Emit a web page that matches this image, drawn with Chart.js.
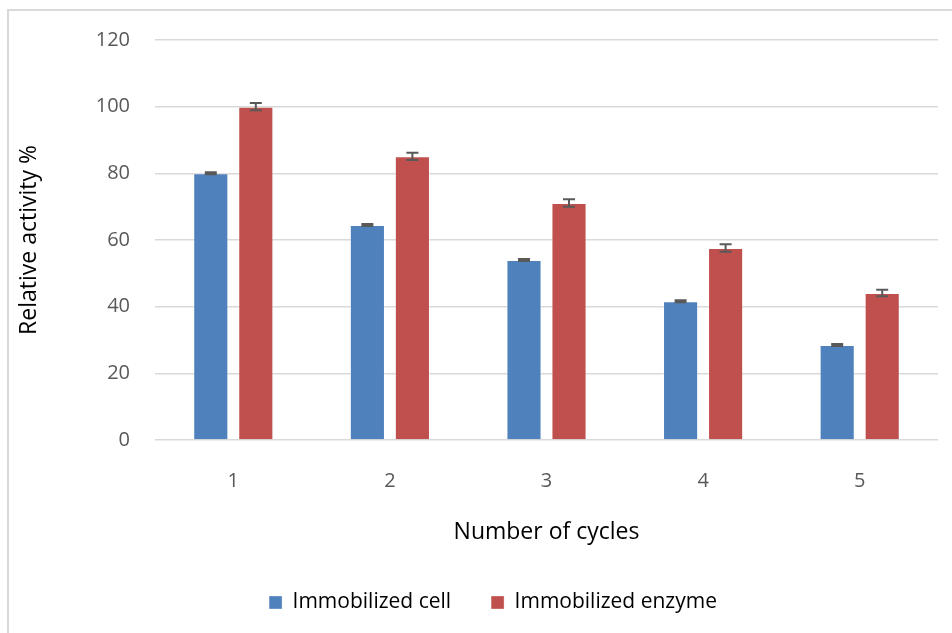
<!DOCTYPE html>
<html>
  <head>
    <title>Relative activity per cycle</title>
    <script src="https://cdn.jsdelivr.net/npm/chart.js@4"></script>
    <style>
      html, body { margin: 0; padding: 0; background: #fff; }
      #frame {
        position: absolute; left: 7px; top: 9px; width: 960px; height: 640px;
        border-top: 2px solid #d9d9d9; border-left: 2px solid #d9d9d9;
      }
      #wrap { position: absolute; left: 0; top: 0; width: 952px; height: 633px; }
    </style>
  </head>
  <body>
    <div id="frame"></div>
    <div id="wrap"><canvas id="chart" width="952" height="633"></canvas></div>
    <script>
      const cycles = ["1", "2", "3", "4", "5"]
      const cellActivity = [80, 64.5, 54, 41.6, 28.5]
      const cellError = [0.3, 0.3, 0.3, 0.3, 0.3]
      const enzymeActivity = [100, 85.1, 71.1, 57.6, 44.1]
      const enzymeError = [1.1, 1.1, 1.1, 1.1, 1.0]

      const font = "'Open Sans', sans-serif"

      // error bars drawn from the y scale
      const errorBars = {
        id: "errorBars",
        afterDatasetsDraw(chart) {
          const ctx = chart.ctx
          const y = chart.scales.y
          ctx.save()
          ctx.strokeStyle = "#595959"
          ctx.lineWidth = 2
          chart.data.datasets.forEach((ds, i) => {
            const meta = chart.getDatasetMeta(i)
            meta.data.forEach((bar, j) => {
              const v = ds.data[j], e = ds.errors[j]
              const top = y.getPixelForValue(v + e)
              const bottom = y.getPixelForValue(v - e)
              ctx.beginPath()
              ctx.moveTo(bar.x, top); ctx.lineTo(bar.x, bottom)
              ctx.moveTo(bar.x - 6, top); ctx.lineTo(bar.x + 6, top)
              ctx.moveTo(bar.x - 6, bottom); ctx.lineTo(bar.x + 6, bottom)
              ctx.stroke()
            })
          })
          ctx.restore()
        }
      }

      // nudge the legend a bit right, like the original
      const legendShift = {
        id: "legendShift",
        afterLayout(chart) {
          chart.legend.left += 24
          chart.legend.right += 24
        }
      }

      new Chart(document.getElementById("chart"), {
        type: "bar",
        data: {
          labels: cycles,
          datasets: [
            {
              label: "Immobilized cell",
              data: cellActivity,
              errors: cellError,
              backgroundColor: "#4f81bd",
              borderColor: "rgba(255,255,255,0.35)",
              borderWidth: 1,
            },
            {
              label: "Immobilized enzyme",
              data: enzymeActivity,
              errors: enzymeError,
              backgroundColor: "#c0504d",
              borderColor: "rgba(255,255,255,0.35)",
              borderWidth: 1,
            },
          ],
        },
        plugins: [errorBars, legendShift],
        options: {
          responsive: false,
          devicePixelRatio: 1,
          animation: false,
          categoryPercentage: 0.575,
          barPercentage: 0.78,
          layout: { padding: { top: 40, right: 14, left: 0, bottom: 10 } },
          plugins: {
            tooltip: { enabled: false },
            legend: {
              position: "bottom",
              labels: {
                boxWidth: 13,
                boxHeight: 13,
                padding: 40,
                color: "#000",
                font: { family: font, size: 21 },
              },
            },
          },
          scales: {
            x: {
              grid: { display: false },
              border: { display: false },
              ticks: { color: "#595959", padding: 21, font: { family: font, size: 20 } },
              title: {
                display: true,
                text: "Number of cycles",
                color: "#000",
                font: { family: font, size: 23 },
                padding: { top: 0, bottom: 6 },
              },
              afterFit(scale) { scale.height = 112 },
            },
            y: {
              min: 0,
              max: 120,
              ticks: { stepSize: 20, color: "#595959", padding: 25, font: { family: font, size: 20 } },
              grid: { color: "#d9d9d9", lineWidth: 1.5, drawTicks: false },
              border: { display: false },
              title: {
                display: true,
                text: "Relative activity %",
                color: "#000",
                font: { family: font, size: 23 },
                padding: { top: 16, bottom: 0 },
              },
              afterFit(scale) { scale.width = 155 },
            },
          },
        },
      })
    </script>
  </body>
</html>
